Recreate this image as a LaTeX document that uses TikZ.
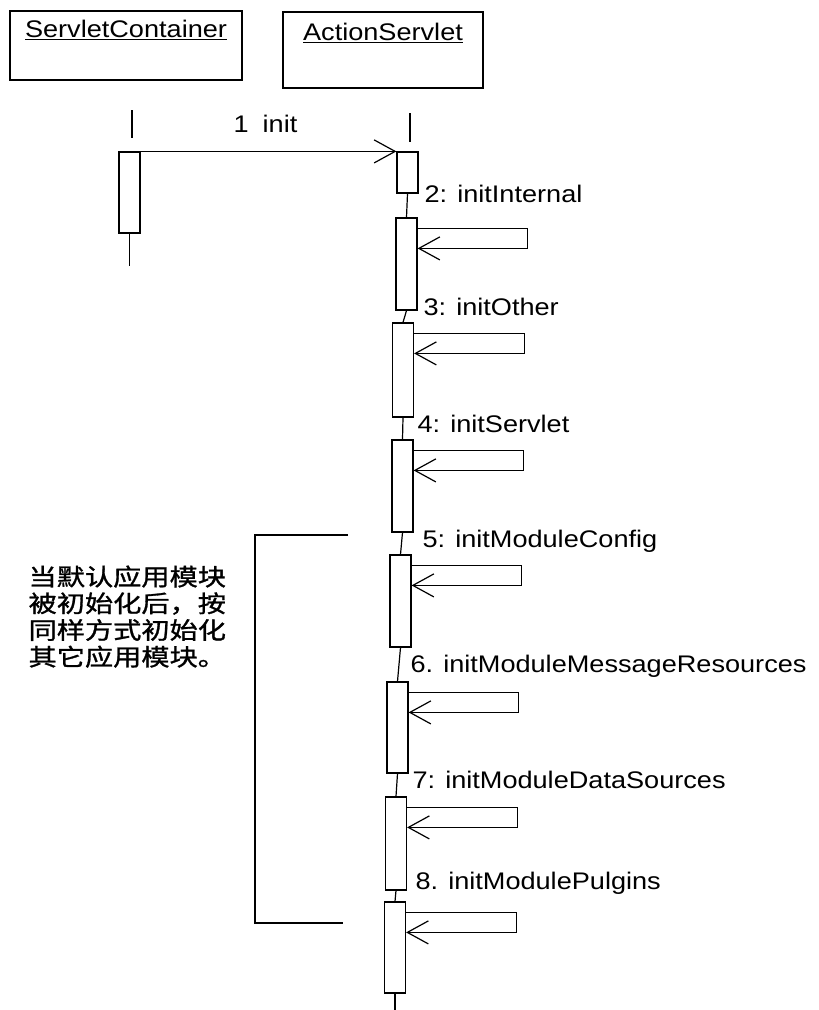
\documentclass[tikz,border=0pt]{standalone}
\usepackage{fontspec}
\setmainfont{Liberation Sans}[FakeStretch=1.13]
\newfontfamily\cjk{Noto Sans CJK SC}[FakeStretch=1.2,FakeBold=1.2]
\usetikzlibrary{arrows.meta,positioning}

\begin{document}
\begin{tikzpicture}[x=1pt,y=-1pt,line width=1.2pt,
    objbox/.style={draw,minimum width=#1,inner sep=0pt},
    act/.style={draw,fill=white,minimum width=21pt,minimum height=#1,inner sep=0pt},
    msg/.style={-{Straight Barb[length=21pt,width=23pt]}},
    lbl/.style={anchor=base west,inner sep=0pt,font=\fontsize{24}{28}\selectfont}]
  \useasboundingbox (0,0) rectangle (819,1010);
  % objects
  \node[objbox=232pt,minimum height=69pt] (sc) at (126,45.5) {};
  \node[objbox=200pt,minimum height=76pt] (as) at (383,50) {};
  \node[lbl,anchor=north,below=9pt of sc.north] (sctext) {\underline{ServletContainer}};
  \node[lbl,anchor=north,below=11pt of as.north] (astext) {\underline{ActionServlet}};
  \draw (132,110) -- (132,138);
  \draw (410,113) -- (410,142);
  % activations
  \node[act=81pt] (a0) at (129.5,192.5) {};
  \node[act=41pt] (b1) at (407.5,172.5) {};
  \node[act=92pt] (b2) at (406.5,264) {};
  \node[act=94pt] (b3) at (403,370) {};
  \node[act=92pt] (b4) at (402.5,486) {};
  \node[act=92pt] (b5) at (400.5,601) {};
  \node[act=91pt] (b6) at (397.5,727.5) {};
  \node[act=93pt] (b7) at (396,843.5) {};
  \node[act=91pt] (b8) at (395,947.5) {};
  \draw (a0.south) -- ++(0,32);
  \foreach \u/\v in {b1/b2,b2/b3,b3/b4,b4/b5,b5/b6,b6/b7,b7/b8}
    \draw (\u.south) -- (\v.north);
  \draw (b8.south) -- ++(0,17);
  % messages
  \draw[msg] (a0.north east) -- (b1.north west);
  \foreach \b in {b2,b3,b4,b5,b6,b7,b8}
    \draw[msg] ([yshift=-11pt]\b.north east) -| ++(110,20) -- ([yshift=-31pt]\b.north east);
  \node[lbl] (l1) at (233,132) {1\hspace{14pt}init};
  \node[lbl] (l2) at (424,202) {2: initInternal};
  \node[lbl] (l3) at (423,315) {3: initOther};
  \node[lbl] (l4) at (417,432) {4: initServlet};
  \node[lbl] (l5) at (422,547) {5: initModuleConfig};
  \node[lbl] (l6) at (410,672) {6. initModuleMessageResources};
  \node[lbl] (l7) at (412,788) {7: initModuleDataSources};
  \node[lbl] (l8) at (415,889) {8. initModulePulgins};
  % note
  \draw (348,535) -| (255,923) -- (343,923);
  \node[anchor=north west,inner sep=0pt,align=left,font=\cjk\fontsize{23.5}{26.7}\selectfont] (note) at (28,565)
    {当默认应用模块\\被初始化后，按\\同样方式初始化\\其它应用模块。};
\end{tikzpicture}
\end{document}
